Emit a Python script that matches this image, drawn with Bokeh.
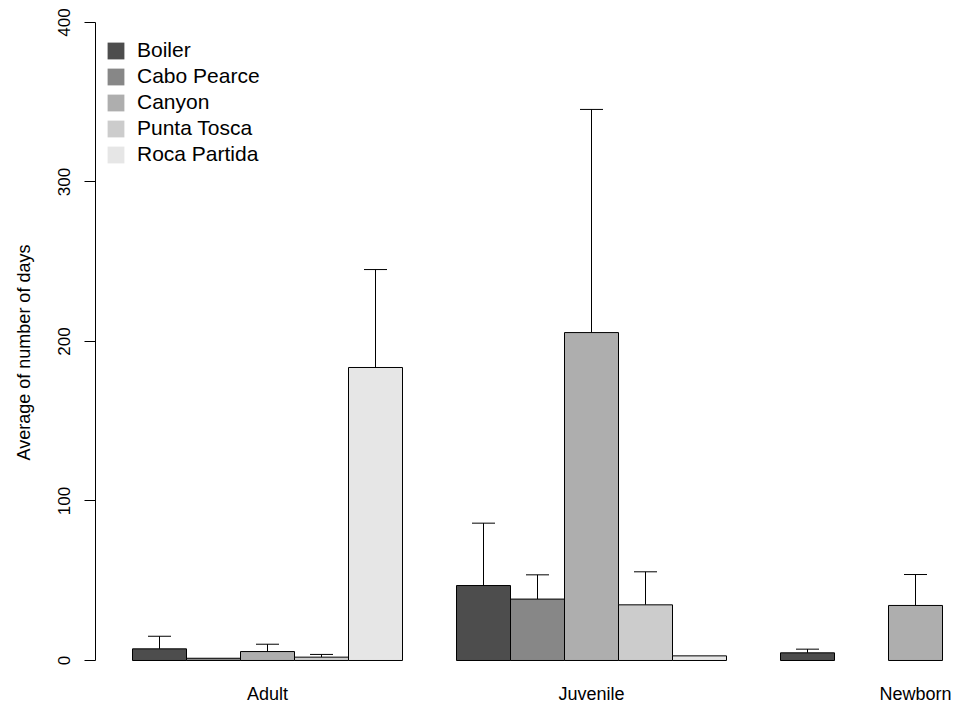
import math
from bokeh.plotting import figure
from bokeh.models import (ColumnDataSource, Range1d, FixedTicker, Whisker, TeeHead,
                          Legend, LegendItem)
from bokeh.core.properties import value
from bokeh.embed import file_html
from bokeh.resources import INLINE

# ---------------- data ----------------
groups = ["Adult", "Juvenile", "Newborn"]
sites = ["Boiler", "Cabo Pearce", "Canyon", "Punta Tosca", "Roca Partida"]
colors = ["#4D4D4D", "#878787", "#AEAEAE", "#CCCCCC", "#E6E6E6"]
nan = float("nan")

# mean number of days per site, per group (Adult, Juvenile, Newborn)
boiler_mean = [7.3, 47.0, 4.8]
cabo_mean = [1.4, 38.5, nan]
canyon_mean = [5.6, 205.6, 34.5]
punta_mean = [2.1, 34.9, nan]
roca_mean = [183.7, 2.9, nan]

# standard error (upper error bar length)
boiler_err = [7.9, 39.1, 2.3]
cabo_err = [nan, 15.2, nan]
canyon_err = [4.6, 139.9, 19.4]
punta_err = [1.7, 20.7, nan]
roca_err = [61.4, nan, nan]

means = [boiler_mean, cabo_mean, canyon_mean, punta_mean, roca_mean]
errs = [boiler_err, cabo_err, canyon_err, punta_err, roca_err]

y_ticks = [0, 100, 200, 300, 400]
y_title = "Average of number of days"

# ---------------- figure ----------------
FONT = "Liberation Sans"
n_sites = len(sites)
group_step = n_sites + 1  # one empty slot between groups (R barplot beside=TRUE)

p = figure(width=956, height=704,
           x_range=Range1d(0.3148, 16.259),
           y_range=Range1d(-27.59, 413.79),
           output_backend="svg", toolbar_location=None,
           x_axis_location=None,
           min_border_left=95, min_border_right=0,
           min_border_top=0, min_border_bottom=0)
p.outline_line_color = None
p.grid.visible = False
p.background_fill_color = "white"
p.border_fill_color = "white"

legend_items = []
for i, site in enumerate(sites):
    xs, tops, ups, lows = [], [], [], []
    exs = []
    for g in range(len(groups)):
        m = means[i][g]
        if math.isnan(m):
            continue
        x = g * group_step + 1 + i + 0.5
        xs.append(x)
        tops.append(m)
        e = errs[i][g]
        if not math.isnan(e):
            exs.append(x)
            lows.append(m)
            ups.append(m + e)
    src = ColumnDataSource(dict(x=xs, top=tops))
    p.vbar(x="x", top="top", bottom=0, width=1, source=src,
           fill_color=colors[i], line_color="black", line_width=1)
    if exs:
        esrc = ColumnDataSource(dict(x=exs, lower=lows, upper=ups))
        w = Whisker(base="x", lower="lower", upper="upper", source=esrc,
                    dimension="height", line_color="black", line_width=1,
                    lower_head=None,
                    upper_head=TeeHead(size=23, line_color="black", line_width=1))
        p.add_layout(w)
    # legend swatch (no border, like R's legend fill boxes)
    lr = p.vbar(x=[nan], top=[nan], width=1, fill_color=colors[i], line_color=None)
    legend_items.append(LegendItem(label=site, renderers=[lr]))

legend = Legend(items=legend_items, location=(10, 538),
                glyph_width=21, glyph_height=21, label_height=24,
                spacing=2, label_standoff=11, padding=0, margin=0,
                border_line_color=None, background_fill_alpha=0,
                label_text_font=FONT, label_text_font_size="21px",
                label_text_color="black")
p.add_layout(legend)

# group labels under the bars
gsrc = ColumnDataSource(dict(
    x=[g * group_step + 1 + n_sites / 2 for g in range(len(groups))],
    y=[-21.3] * len(groups),
    text=groups))
p.text(x="x", y="y", text="text", source=gsrc,
       text_font=value(FONT), text_font_size=value("18px"),
       text_align="center", text_baseline="alphabetic", text_color="black")

# y axis (R style)
ax = p.yaxis[0]
ax.bounds = (0, 400)
ax.ticker = FixedTicker(ticks=y_ticks)
ax.major_tick_out = 11
ax.major_tick_in = 0
ax.minor_tick_out = 0
ax.minor_tick_in = 0
ax.axis_line_color = "black"
ax.major_tick_line_color = "black"
ax.major_label_orientation = "vertical"
ax.major_label_standoff = 14
ax.major_label_text_font = FONT
ax.major_label_text_font_size = "17px"
ax.major_label_text_color = "black"
ax.axis_label = y_title
ax.axis_label_text_font = FONT
ax.axis_label_text_font_size = "18px"
ax.axis_label_text_font_style = "normal"
ax.axis_label_text_color = "black"
ax.axis_label_standoff = 22

open("out.html", "w").write(file_html(p, INLINE))
